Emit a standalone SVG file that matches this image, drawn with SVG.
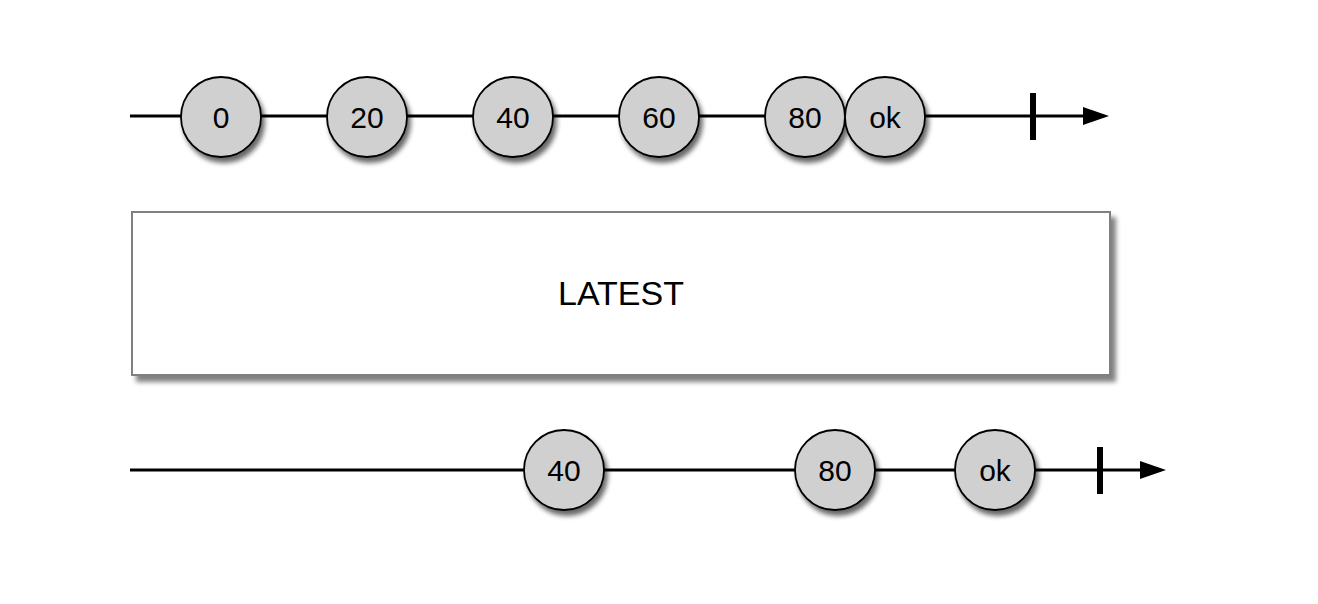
<svg xmlns="http://www.w3.org/2000/svg" width="1318" height="604" viewBox="0 0 1318 604">
<style>
.ln{stroke:#000;stroke-width:3;fill:none}
.tick{stroke:#000;stroke-width:6}
.mb circle{fill:#d0d0d0;stroke:#000;stroke-width:1.8;filter:url(#sh)}
.mb text{font-family:"Liberation Sans",Arial,sans-serif;font-size:30px;fill:#000;text-anchor:middle;dominant-baseline:central}
.box{fill:#fff;stroke:#808080;stroke-width:2;filter:url(#sh2)}
.lbl{font-family:"Liberation Sans",Arial,sans-serif;font-size:34px;fill:#000;text-anchor:middle;dominant-baseline:central}
</style>
<defs>
<filter id="sh" x="-30%" y="-30%" width="170%" height="170%">
<feGaussianBlur in="SourceAlpha" stdDeviation="2.5"/>
<feOffset dx="3" dy="5" result="b"/>
<feComponentTransfer><feFuncA type="linear" slope="0.6"/></feComponentTransfer>
<feMerge><feMergeNode/><feMergeNode in="SourceGraphic"/></feMerge>
</filter>
<filter id="sh2" x="-5%" y="-10%" width="110%" height="125%">
<feGaussianBlur in="SourceAlpha" stdDeviation="2.5"/>
<feOffset dx="5" dy="6" result="b"/>
<feComponentTransfer><feFuncA type="linear" slope="0.5"/></feComponentTransfer>
<feMerge><feMergeNode/><feMergeNode in="SourceGraphic"/></feMerge>
</filter>
</defs>
<g id="connectors">
<line class="ln" x1="130" y1="116" x2="1086" y2="116"/>
<polygon points="1083,107 1109,116 1083,125" fill="#000"/>
<line class="tick" x1="1033" y1="93" x2="1033" y2="140"/>
<line class="ln" x1="130" y1="470" x2="1142" y2="470"/>
<polygon points="1140,461 1166,470 1140,479" fill="#000"/>
<line class="tick" x1="1100" y1="447" x2="1100" y2="494"/>
</g>
<g id="n0" class="mb"><circle cx="221" cy="117" r="40"/><text x="221" y="117">0</text></g>
<g id="n20" class="mb"><circle cx="367" cy="117" r="40"/><text x="367" y="117">20</text></g>
<g id="n40" class="mb"><circle cx="513" cy="117" r="40"/><text x="513" y="117">40</text></g>
<g id="n60" class="mb"><circle cx="659" cy="117" r="40"/><text x="659" y="117">60</text></g>
<g id="n80" class="mb"><circle cx="805" cy="117" r="40"/><text x="805" y="117">80</text></g>
<g id="nok" class="mb"><circle cx="885" cy="117" r="40"/><text x="885" y="117">ok</text></g>
<g id="latest"><rect class="box" x="132" y="212" width="978" height="163"/><text class="lbl" x="621" y="293">LATEST</text></g>
<g id="o40" class="mb"><circle cx="564" cy="470" r="40"/><text x="564" y="470">40</text></g>
<g id="o80" class="mb"><circle cx="835" cy="470" r="40"/><text x="835" y="470">80</text></g>
<g id="ook" class="mb"><circle cx="995" cy="470" r="40"/><text x="995" y="470">ok</text></g>
</svg>
